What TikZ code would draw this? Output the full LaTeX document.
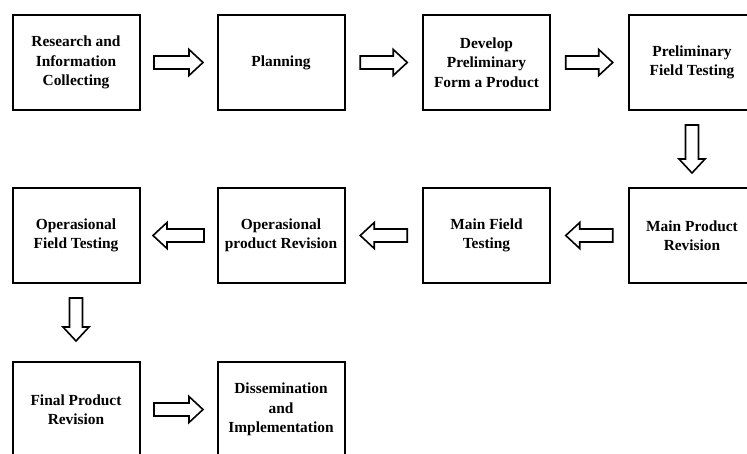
\documentclass[tikz,border=0pt]{standalone}
\usepackage{fontspec}
\setmainfont{Liberation Serif}
\usetikzlibrary{calc}
\tikzset{
  stage/.style={draw, line width=2pt, minimum width=127pt, minimum height=95pt,
    align=center, inner sep=2pt, font=\bfseries\fontsize{15.4}{19.5}\selectfont},
  blockarrow/.style={draw, line width=1.6pt, fill=white, line join=miter}
}
% right arrow between two nodes: #1 from, #2 to, #3 length
\newcommand\rightblock[3]{%
  \path ($(#1.east)!0.5!(#2.west)$) coordinate (mid);
  \draw[blockarrow] ($(mid)+(-#3/2,6.5)$) -- ($(mid)+(#3/2-14,6.5)$) -- ($(mid)+(#3/2-14,13)$)
    -- ($(mid)+(#3/2,0)$) -- ($(mid)+(#3/2-14,-13)$) -- ($(mid)+(#3/2-14,-6.5)$)
    -- ($(mid)+(-#3/2,-6.5)$) -- cycle;}
\newcommand\leftblock[3]{%
  \path ($(#1.west)!0.5!(#2.east)$) coordinate (mid);
  \draw[blockarrow] ($(mid)+(#3/2,6.5)$) -- ($(mid)+(-#3/2+14,6.5)$) -- ($(mid)+(-#3/2+14,13)$)
    -- ($(mid)+(-#3/2,0)$) -- ($(mid)+(-#3/2+14,-13)$) -- ($(mid)+(-#3/2+14,-6.5)$)
    -- ($(mid)+(#3/2,-6.5)$) -- cycle;}
\newcommand\downblock[4]{%
  \path ($(#1.south)!0.5!(#2.north)$) coordinate (mid);
  \path (mid) ++(0,#4) coordinate (mid);
  \draw[blockarrow] ($(mid)+(-6.5,#3/2)$) -- ($(mid)+(-6.5,-#3/2+14)$) -- ($(mid)+(-13,-#3/2+14)$)
    -- ($(mid)+(0,-#3/2)$) -- ($(mid)+(13,-#3/2+14)$) -- ($(mid)+(6.5,-#3/2+14)$)
    -- ($(mid)+(6.5,#3/2)$) -- cycle;}
\begin{document}
\begin{tikzpicture}[x=1pt,y=1pt]
\useasboundingbox (0,0) rectangle (747,-453);
\clip (0,0) rectangle (747,-453);
\node[stage] (s1) at (76,-62.5) {Research and\\Information\\Collecting};
\node[stage] (s2) at (281,-62.5) {Planning};
\node[stage] (s3) at (486.5,-62.5) {Develop\\Preliminary\\Form a Product};
\node[stage] (s4) at (692,-62.5) {Preliminary\\Field Testing};
\node[stage] (s5) at (692,-235.5) {Main Product\\Revision};
\node[stage] (s6) at (486.5,-235.5) {Main Field\\Testing};
\node[stage] (s7) at (281,-235.5) {Operasional\\product Revision};
\node[stage] (s8) at (76,-235.5) {Operasional\\Field Testing};
\node[stage] (s9) at (76,-409.5) {Final Product\\Revision};
\node[stage] (s10) at (281,-409.5) {Dissemination\\and\\Implementation};
\rightblock{s1}{s2}{49}
\rightblock{s2}{s3}{47}
\rightblock{s3}{s4}{47}
\downblock{s4}{s5}{48}{0}
\leftblock{s5}{s6}{47}
\leftblock{s6}{s7}{47}
\leftblock{s7}{s8}{51}
\downblock{s8}{s9}{43}{3}
\rightblock{s9}{s10}{49}
\end{tikzpicture}
\end{document}
